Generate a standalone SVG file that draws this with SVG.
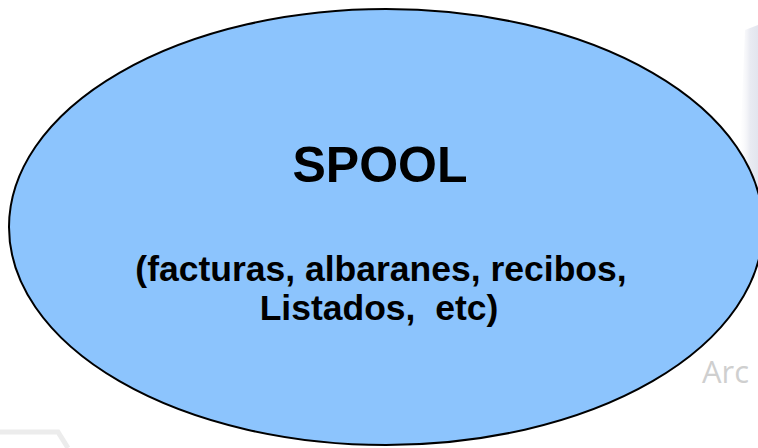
<svg xmlns="http://www.w3.org/2000/svg" width="758" height="448" viewBox="0 0 758 448">
<defs>
<linearGradient id="shade" x1="0" y1="0" x2="1" y2="0">
<stop offset="0" stop-color="#ffffff" stop-opacity="0"/>
<stop offset="0.6" stop-color="#e9ebf2"/>
<stop offset="1" stop-color="#e2e5ee"/>
</linearGradient>
</defs>
<style>
.lbl{font-family:"Liberation Sans",Arial,sans-serif;font-weight:bold;fill:#000;text-anchor:middle}
.bg{font-family:"Open Sans","Liberation Sans",sans-serif;fill:#cfcfcf}
</style>
<rect width="758" height="448" fill="#ffffff"/>
<g id="background">
<path d="M745,30 L758,25 L758,200 L738,200 Z" fill="url(#shade)"/>
<text class="bg" x="702" y="383" font-size="31" textLength="47" lengthAdjust="spacingAndGlyphs">Arc</text>
<path d="M0,432 L58,432 L68,448" fill="none" stroke="#ececec" stroke-width="5"/>
</g>
<g id="spool">
<ellipse cx="386" cy="227" rx="377" ry="218" fill="#8cc4fd" stroke="#000" stroke-width="2"/>
<text class="lbl" x="380" y="182" font-size="50">SPOOL</text>
<text class="lbl" x="381" y="281" font-size="35.5">(facturas, albaranes, recibos,</text>
<text class="lbl" x="379" y="320" font-size="35.5" xml:space="preserve">Listados,  etc)</text>
</g>
</svg>
